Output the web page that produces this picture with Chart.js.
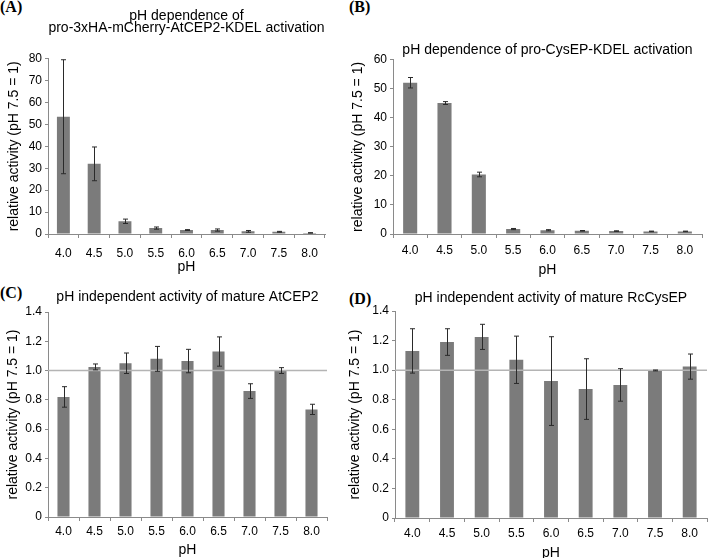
<!DOCTYPE html>
<html>
<head>
<meta charset="utf-8">
<script src="https://cdn.jsdelivr.net/npm/chart.js@4.4.1/dist/chart.umd.min.js"></script>
<style>
  html, body { margin: 0; padding: 0; background: #fff; width: 709px; height: 558px; overflow: hidden; }
  canvas { position: absolute; }
  .tag { position: absolute; font: bold 16px "Liberation Serif", "Times New Roman", serif; color: #000; }
</style>
</head>
<body>
<div class="tag" style="left:0px; top:-2px;">(A)</div>
<div class="tag" style="left:349px; top:-2px;">(B)</div>
<div class="tag" style="left:0px; top:284px;">(C)</div>
<div class="tag" style="left:349px; top:290px;">(D)</div>

<canvas id="chartA" width="354" height="280" style="left:0px; top:0px;"></canvas>
<canvas id="chartB" width="359" height="280" style="left:350px; top:0px;"></canvas>
<canvas id="chartC" width="354" height="280" style="left:0px; top:280px;"></canvas>
<canvas id="chartD" width="362" height="282" style="left:347px; top:280px;"></canvas>

<script>
// pH values on the x axis
var pHLabels = ['4.0', '4.5', '5.0', '5.5', '6.0', '6.5', '7.0', '7.5', '8.0'];

// (A) pro-3xHA-mCherry-AtCEP2-KDEL
var activityA = [53.5, 32.0, 5.8, 2.7, 1.8, 1.8, 1.2, 1.0, 0.5];
var errorA    = [26.0, 7.7, 1.0, 0.5, 0.2, 0.5, 0.4, 0.2, 0.1];

// (B) pro-CysEP-KDEL
var activityB = [52.1, 45.1, 20.5, 1.7, 1.3, 1.1, 1.0, 0.9, 0.9];
var errorB    = [1.8, 0.5, 0.8, 0.2, 0.2, 0.1, 0.1, 0.1, 0.1];

// (C) mature AtCEP2
var activityC = [0.82, 1.025, 1.05, 1.08, 1.065, 1.13, 0.86, 1.0, 0.735];
var errorC    = [0.07, 0.02, 0.07, 0.085, 0.08, 0.1, 0.05, 0.02, 0.035];

// (D) mature RcCysEP
var activityD = [1.13, 1.19, 1.225, 1.07, 0.926, 0.872, 0.90, 0.998, 1.024];
var errorD    = [0.15, 0.09, 0.085, 0.16, 0.3, 0.205, 0.11, 0.003, 0.085];

var titleA = ['pH dependence of', 'pro-3xHA-mCherry-AtCEP2-KDEL activation'];
var titleB = 'pH dependence of pro-CysEP-KDEL activation';
var titleC = 'pH independent activity of mature AtCEP2';
var titleD = 'pH independent activity of mature RcCysEP';

var yTitle = 'relative activity (pH 7.5 = 1)';
var xTitle = 'pH';

var FONT = '"Liberation Sans", Arial, sans-serif';
var AXIS_GREY = '#8a8a8a';

// error bars + optional reference line at 1.0
var errorBarPlugin = {
    id: 'errorBars',
    afterDatasetsDraw: function(chart) {
        var ctx = chart.ctx;
        var y = chart.scales.y;
        var area = chart.chartArea;
        var ds = chart.data.datasets[0];

        if (chart.options.plugins.errorBars.refLine != null) {
            var ry = y.getPixelForValue(chart.options.plugins.errorBars.refLine);
            ctx.save();
            ctx.strokeStyle = '#b4b4b4';
            ctx.lineWidth = 1.5;
            ctx.beginPath();
            ctx.moveTo(area.left, ry);
            ctx.lineTo(area.right, ry);
            ctx.stroke();
            ctx.restore();
        }

        var bars = chart.getDatasetMeta(0).data;
        ctx.save();
        ctx.strokeStyle = '#2a2a2a';
        ctx.lineWidth = 1;
        bars.forEach(function(bar, i) {
            var v = ds.data[i], e = ds.errors[i];
            var top = y.getPixelForValue(v + e);
            var bot = y.getPixelForValue(v - e);
            var x = Math.round(bar.x) + 0.5;
            ctx.beginPath();
            ctx.moveTo(x, top); ctx.lineTo(x, bot);
            ctx.moveTo(x - 2.5, top); ctx.lineTo(x + 2.5, top);
            ctx.moveTo(x - 2.5, bot); ctx.lineTo(x + 2.5, bot);
            ctx.stroke();
        });
        ctx.restore();
    }
};

function makePanel(id, p) {
    return new Chart(document.getElementById(id), {
        type: 'bar',
        data: {
            labels: pHLabels,
            datasets: [{
                data: p.values,
                errors: p.errors,
                backgroundColor: '#7b7b7b',
                borderWidth: 0,
                categoryPercentage: 1,
                barPercentage: p.barPct
            }]
        },
        options: {
            responsive: false,
            animation: false,
            layout: { padding: { left: 0, right: p.padRight, top: 0, bottom: 0 } },
            plugins: {
                legend: { display: false },
                tooltip: { enabled: false },
                title: {
                    display: true,
                    text: p.title,
                    fullSize: false,
                    color: '#000',
                    font: { family: FONT, size: 14, weight: 'normal', lineHeight: p.titleLH },
                    padding: { top: p.titleTop, bottom: p.titleBottom }
                },
                errorBars: { refLine: p.refLine }
            },
            scales: {
                x: {
                    afterFit: function(s) { s.height = p.xHeight; },
                    grid: { display: true, drawOnChartArea: false, offset: true, tickLength: 4, color: AXIS_GREY },
                    border: { color: AXIS_GREY, width: 1 },
                    ticks: { color: '#000', padding: p.xTickPad, maxRotation: 0, font: { family: FONT, size: 12 } },
                    title: { display: true, text: xTitle, color: '#000', padding: { top: 0, bottom: p.xTitlePad },
                             font: { family: FONT, size: 14 } }
                },
                y: {
                    min: 0,
                    max: p.max,
                    afterFit: function(s) { s.width = p.yWidth; },
                    grid: { display: true, drawOnChartArea: false, tickLength: 3, color: AXIS_GREY },
                    border: { color: AXIS_GREY, width: 1 },
                    ticks: {
                        stepSize: p.step,
                        color: '#000',
                        padding: 3,
                        font: { family: FONT, size: 12 },
                        callback: p.tickFmt
                    },
                    title: { display: true, text: yTitle, color: '#000', padding: { top: p.yTitlePad, bottom: 0 },
                             font: { family: FONT, size: 14 } }
                }
            }
        },
        plugins: [errorBarPlugin]
    });
}

function intTick(v) { return String(Math.round(v)); }
function decTick(v) { return v === 0 ? '0' : v.toFixed(1); }

makePanel('chartA', {
    values: activityA, errors: errorA, title: titleA, max: 80, step: 10, tickFmt: intTick,
    barPct: 0.42, padRight: 29, yWidth: 48, xHeight: 46,
    titleLH: 0.88, titleTop: 10, titleBottom: 24,
    xTickPad: 8, xTitlePad: 4, yTitlePad: 5.5, refLine: null
});

makePanel('chartB', {
    values: activityB, errors: errorB, title: titleB, max: 60, step: 10, tickFmt: intTick,
    barPct: 0.41, padRight: 7, yWidth: 43, xHeight: 46,
    titleLH: 1.2, titleTop: 42, titleBottom: 1,
    xTickPad: 5, xTitlePad: 1, yTitlePad: 0, refLine: null
});

makePanel('chartC', {
    values: activityC, errors: errorC, title: titleC, max: 1.4, step: 0.2, tickFmt: decTick,
    barPct: 0.39, padRight: 27, yWidth: 48, xHeight: 43,
    titleLH: 1.2, titleTop: 8.6, titleBottom: 6.6,
    xTickPad: 3, xTitlePad: 1.6, yTitlePad: 5, refLine: 1.0
});

makePanel('chartD', {
    values: activityD, errors: errorD, title: titleD, max: 1.4, step: 0.2, tickFmt: decTick,
    barPct: 0.40, padRight: 2, yWidth: 48, xHeight: 44,
    titleLH: 1.2, titleTop: 9.6, titleBottom: 4.6,
    xTickPad: 4, xTitlePad: 0.6, yTitlePad: 0, refLine: 1.0
});
</script>
</body>
</html>
